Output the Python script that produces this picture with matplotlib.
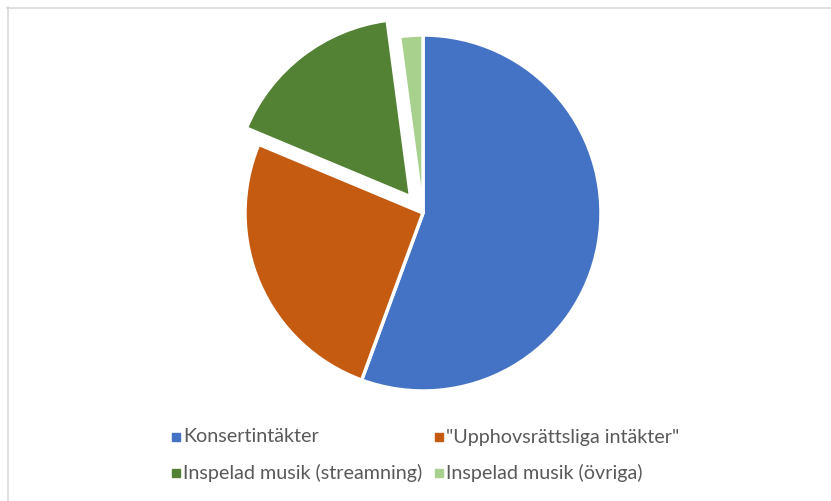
import matplotlib.pyplot as plt
from matplotlib.lines import Line2D
from matplotlib.patches import Rectangle

labels = ['Konsertintäkter', '"Upphovsrättsliga intäkter"',
          'Inspelad musik (streamning)', 'Inspelad musik (övriga)']
values = [55.6, 25.7, 16.6, 2.1]
colors = ['#4472C4', '#C55A11', '#548235', '#A9D18E']
explode = [0, 0, 0.115, 0]

W, H = 831, 501
fig = plt.figure(figsize=(W / 100, H / 100), dpi=100)

# pie centre (423, 213) px, radius 178 px
cx, cy, r = 423, 213, 178
ax = fig.add_axes([(cx - r) / W, (H - cy - r) / H, 2 * r / W, 2 * r / H])
ax.pie(values, colors=colors, explode=explode, startangle=90, counterclock=False,
       radius=1, wedgeprops=dict(edgecolor='white', linewidth=2.5))
ax.set_xlim(-1, 1)
ax.set_ylim(-1, 1)
ax.set_aspect('auto')
ax.axis('off')
for p in ax.patches:
    p.set_clip_on(False)

# chart border (top and left only visible)
fig.add_artist(Line2D([7 / W, 1], [1 - 7.5 / H, 1 - 7.5 / H], color='#D9D9D9', lw=1.2))
fig.add_artist(Line2D([7.5 / W, 7.5 / W], [0, 1 - 7 / H], color='#D9D9D9', lw=1.2))

# legend, two columns
col_x = [172, 435]
row_y = [437, 473]
for i, (lab, col) in enumerate(zip(labels, colors)):
    x = col_x[i % 2]
    y = row_y[i // 2]
    fig.add_artist(Rectangle((x / W, (H - y - 4) / H), 8 / W, 8 / H, color=col,
                             transform=fig.transFigure))
    fig.text((x + 11) / W, (H - y) / H, lab, fontsize=14.2, family='Lato',
             color='#595959', va='center', ha='left')

fig.savefig('out.png', dpi=100)
